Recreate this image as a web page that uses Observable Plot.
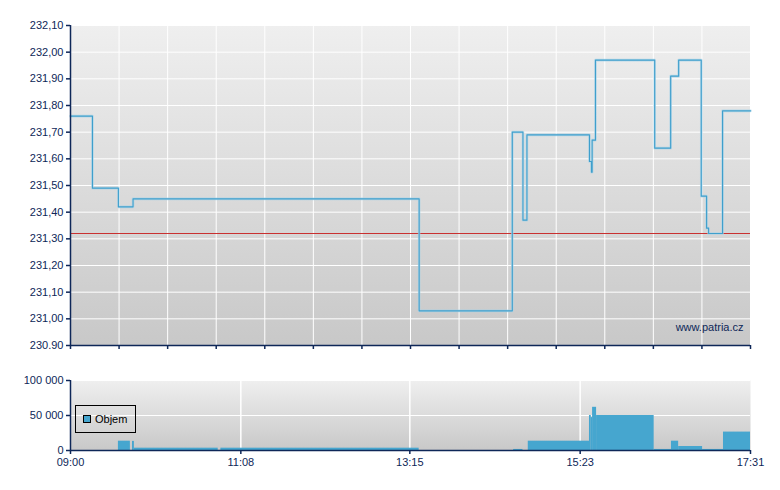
<!DOCTYPE html>
<html><head><meta charset="utf-8">
<script src="https://cdn.jsdelivr.net/npm/d3@7"></script>
<script src="https://cdn.jsdelivr.net/npm/@observablehq/plot@0.6"></script>
<style>
body{margin:0;background:#fff;font-family:"Liberation Sans",Arial,sans-serif;}
#wrap{position:relative;width:780px;height:490px;}
#wrap svg{display:block;}
#legend{position:absolute;left:75px;top:405px;width:61px;height:28px;border:1px solid #000;box-sizing:border-box;}
#legend .sw{position:absolute;left:7px;top:9px;width:6px;height:6px;border:1px solid #000;background:#46a6cf;}
#legend .lb{position:absolute;left:19px;top:8px;font-size:11px;line-height:11px;color:#000;white-space:nowrap;}
</style></head>
<body><div id="wrap"></div>
<script>
// ---- data ----
const sessionStart = "09:00";
const sessionEnd = "17:31";
const priceTimes = ["09:00","09:16:30","09:36","09:47","13:22","14:32","14:40","14:43","15:30","15:31:30","15:32","15:34:30","16:19","16:31","16:37","16:54","16:58","16:59:30","17:10","17:31"];
const priceValues = [231.76,231.49,231.42,231.45,231.03,231.70,231.37,231.69,231.59,231.55,231.67,231.97,231.64,231.91,231.97,231.46,231.34,231.32,231.78,231.78];
const refPrice = 231.32;
const volStart = ["09:36","09:46:36","09:48","10:53","14:33","14:44","15:30","15:31:20","15:32:20","15:35:20","16:18:36","16:31:36","16:37","16:55","17:10:42"];
const volEnd   = ["09:45","09:48","10:51","13:22","14:40","15:30","15:31:20","15:32:20","15:35:20","16:18:36","16:31:36","16:37","16:55","17:10:42","17:31"];
const volValues = [13300,13000,3300,3300,1500,13300,50000,47000,61700,50000,1500,13300,5700,1500,26300];
const priceTicks = [230.9,231.0,231.1,231.2,231.3,231.4,231.5,231.6,231.7,231.8,231.9,232.0,232.1];
const priceTickLabels = ["230.90","231,00","231,10","231,20","231,30","231,40","231,50","231,60","231,70","231,80","231,90","232,00","232,10"];
const volTicks = [0,50000,100000];
const volTickLabels = ["0","50 000","100 000"];
const timeTickLabels = ["09:00","11:08","13:15","15:23","17:31"];
const legendLabel = "Objem";
const watermark = "www.patria.cz";

// ---- helpers ----
const t0 = (() => { const [h,m]=sessionStart.split(":").map(Number); return h*60+m; })();
function toMin(s){ const [h,m,sec=0]=s.split(":").map(Number); return h*60+m+sec/60 - t0; }
const tEnd = toMin(sessionEnd);
const minorTicks = d3.range(15).map(i => i*tEnd/14);
const timeTickPos = timeTickLabels.map(toMin);

const priceData = priceTimes.map((t,i)=>({t:toMin(t), v:priceValues[i]}));
const volData = volStart.map((s,i)=>({s:toMin(s), e:toMin(volEnd[i]), v:volValues[i]}));
const priceLabelMap = new Map(priceTicks.map((d,i)=>[d,priceTickLabels[i]]));
const volLabelMap = new Map(volTicks.map((d,i)=>[d,volTickLabels[i]]));
const timeLabelMap = new Map(timeTickPos.map((d,i)=>[d,timeTickLabels[i]]));

const navy = "#0e2758";
const font = "'Liberation Sans', Arial, sans-serif";

function addGradient(svg, id){
  const defs = d3.select(svg).insert("defs", ":first-child");
  const g = defs.append("linearGradient").attr("id", id).attr("x1",0).attr("y1",0).attr("x2",0).attr("y2",1);
  g.append("stop").attr("offset","0%").attr("stop-color","#efefef");
  g.append("stop").attr("offset","100%").attr("stop-color","#c8c8c8");
}

const price = Plot.plot({
  width: 780, height: 350,
  marginLeft: 70, marginRight: 30, marginTop: 25, marginBottom: 5,
  x: {domain: [0, tEnd], axis: null},
  y: {domain: [230.9, 232.1], axis: null},
  style: {fontFamily: font, fontSize: "11px", color: navy, background: "transparent", overflow: "visible"},
  marks: [
    Plot.frame({fill: "url(#gp)", stroke: null}),
    Plot.gridY(priceTicks, {stroke: "#fff", strokeOpacity: 1, strokeWidth: 1}),
    Plot.gridX(minorTicks, {stroke: "#fff", strokeOpacity: 1, strokeWidth: 1}),
    Plot.ruleY([refPrice], {stroke: "#c93030", strokeWidth: 1}),
    Plot.line(priceData, {x: "t", y: "v", curve: "step-after", stroke: "#a6d3e8", strokeWidth: 2.6, strokeOpacity: 0.7}),
    Plot.line(priceData, {x: "t", y: "v", curve: "step-after", stroke: "#3f9fcc", strokeWidth: 1.1}),
    Plot.ruleX([0], {stroke: navy, strokeWidth: 1.5}),
    Plot.ruleY([230.9], {stroke: navy, strokeWidth: 1.5}),
    Plot.axisY(priceTicks, {label: null, tickSize: 4, tickPadding: 3, tickFormat: d => priceLabelMap.get(d), stroke: navy, fill: navy, strokeWidth: 1.5}),
    Plot.axisX(minorTicks, {label: null, anchor: "bottom", tickSize: 4, tickFormat: () => "", stroke: navy, strokeWidth: 1.5}),
    Plot.text([watermark], {frameAnchor: "bottom-right", dx: -7, dy: -15, fill: navy, fontSize: 11})
  ]
});
addGradient(price, "gp");

const vol = Plot.plot({
  width: 780, height: 140,
  marginLeft: 70, marginRight: 30, marginTop: 30, marginBottom: 40,
  x: {domain: [0, tEnd], axis: null},
  y: {domain: [0, 100000], axis: null},
  style: {fontFamily: font, fontSize: "11px", color: navy, background: "transparent", overflow: "visible"},
  marks: [
    Plot.frame({fill: "url(#gv)", stroke: null}),
    Plot.gridY([50000, 100000], {stroke: "#fff", strokeOpacity: 1, strokeWidth: 1}),
    Plot.gridX(timeTickPos.slice(1, -1), {stroke: "#fff", strokeOpacity: 1, strokeWidth: 1.5}),
    Plot.rect(volData, {x1: "s", x2: "e", y1: 0, y2: "v", fill: "#46a6cf"}),
    Plot.ruleX([0], {stroke: navy, strokeWidth: 1.5}),
    Plot.ruleY([0], {stroke: navy, strokeWidth: 1.5}),
    Plot.axisY(volTicks, {label: null, tickSize: 4, tickPadding: 3, tickFormat: d => volLabelMap.get(d), stroke: navy, fill: navy, strokeWidth: 1.5}),
    Plot.axisX(timeTickPos, {label: null, anchor: "bottom", tickSize: 4, tickPadding: 4, tickFormat: d => timeLabelMap.get(d), stroke: navy, fill: navy, strokeWidth: 1.5})
  ]
});
addGradient(vol, "gv");

const wrap = document.getElementById("wrap");
wrap.appendChild(price);
wrap.appendChild(vol);
const lg = document.createElement("div");
lg.id = "legend";
lg.innerHTML = `<div class="sw"></div><span class="lb">${legendLabel}</span>`;
wrap.appendChild(lg);
</script>
</body></html>
